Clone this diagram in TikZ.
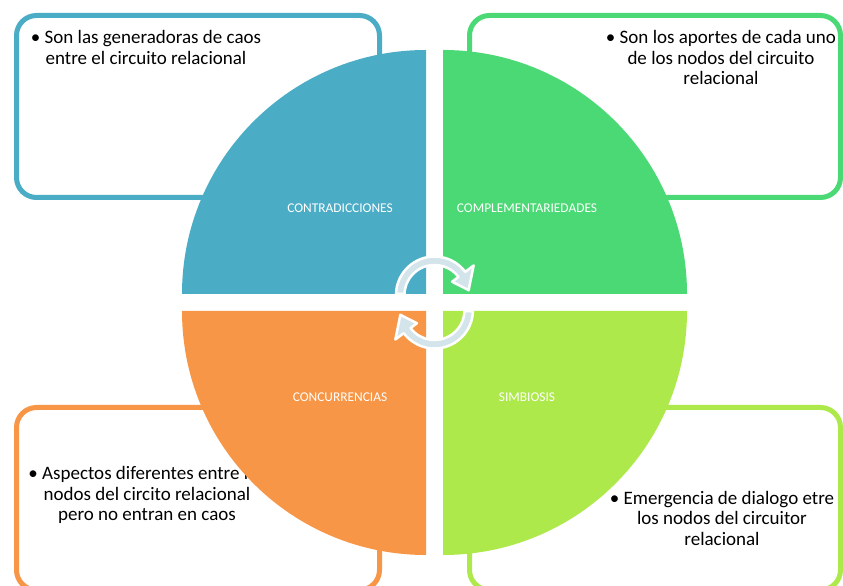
\documentclass[tikz,border=0pt]{standalone}
\usepackage{fontspec}
\setmainfont{Carlito}
\definecolor{cblue}{HTML}{4BACC6}
\definecolor{cgreen}{HTML}{4AD974}
\definecolor{corange}{HTML}{F79646}
\definecolor{clime}{HTML}{AEE94B}
\definecolor{carrow}{HTML}{D4E4EB}

\begin{document}
\begin{tikzpicture}[x=1pt,y=1pt]
      \tikzset { box/.style = { draw, line width=5pt, rounded corners=20pt } }
      \tikzset { txt/.style = { align=center, inner sep=0pt, font=\fontsize{19}{20.5}\selectfont } }
      \tikzset { lbl/.style = { text=white, inner sep=0pt, font=\fontsize{13.4}{15}\selectfont } }
      \tikzset { cyc/.style = { draw=white, fill=carrow, line width=2.5pt, line join=round } }

      \useasboundingbox (0,0) rectangle (843,586);

      % cuadros
      \draw[box, cblue] (16.5,388.5) rectangle (379.5,570.5);
      \draw[box, cgreen] (469.5,388.5) rectangle (840.5,570.5);
      \draw[box, corange] (16.5,-4) rectangle (379.5,178.5);
      \draw[box, clime] (469.5,-4) rectangle (840.5,178.5);

      \node[txt] (tc) at (146,538.5) {\textbullet\ Son las generadoras de caos\\entre el circuito relacional};
      \node[txt] (tp) at (721,528.5) {\textbullet\ Son los aportes de cada uno\\de los nodos del circuito\\relacional};
      \node[txt] (tn) at (147,91) {\textbullet\ Aspectos diferentes entre los\\nodos del circito relacional\\pero no entran en caos};
      \node[txt] (ts) at (722,68) {\textbullet\ Emergencia de dialogo etre\\los nodos del circuitor\\relacional};

      % cuadrantes
      \coordinate (qa) at (426,292);
      \coordinate (qb) at (443,292);
      \coordinate (qc) at (426,275);
      \coordinate (qd) at (443,275);

      \fill[cblue] (qa) -- ++(-244,0) arc[start angle=180, end angle=90, radius=244] -- cycle;
      \fill[cgreen] (qb) -- ++(0,244) arc[start angle=90, end angle=0, radius=244] -- cycle;
      \fill[corange] (qc) -- ++(-244,0) arc[start angle=180, end angle=270, radius=244] -- cycle;
      \fill[clime] (qd) -- ++(244,0) arc[start angle=0, end angle=-90, radius=244] -- cycle;

      \node[lbl] (a) at (340,378) {CONTRADICCIONES};
      \node[lbl] (b) at (527,378) {COMPLEMENTARIEDADES};
      \node[lbl] (c) at (340,189) {CONCURRENCIAS};
      \node[lbl] (d) at (527,189) {SIMBIOSIS};

      % flechas circulares
      \begin{scope}[shift={(434.5,291)}]
        \draw[cyc] (178:38.5) arc[start angle=178, end angle=37, radius=38.5] -- (37:49) -- (8:34.5) -- (37:22) -- (37:30) arc[start angle=37, end angle=178, radius=30] -- cycle;
      \end{scope}
      \begin{scope}[shift={(434.5,276)}]
        \draw[cyc] (-2:38.5) arc[start angle=-2, end angle=-143, radius=38.5] -- (-143:49) -- (-172:34.5) -- (-143:22) -- (-143:30) arc[start angle=-143, end angle=-2, radius=30] -- cycle;
      \end{scope}

    \end{tikzpicture}
\end{document}
